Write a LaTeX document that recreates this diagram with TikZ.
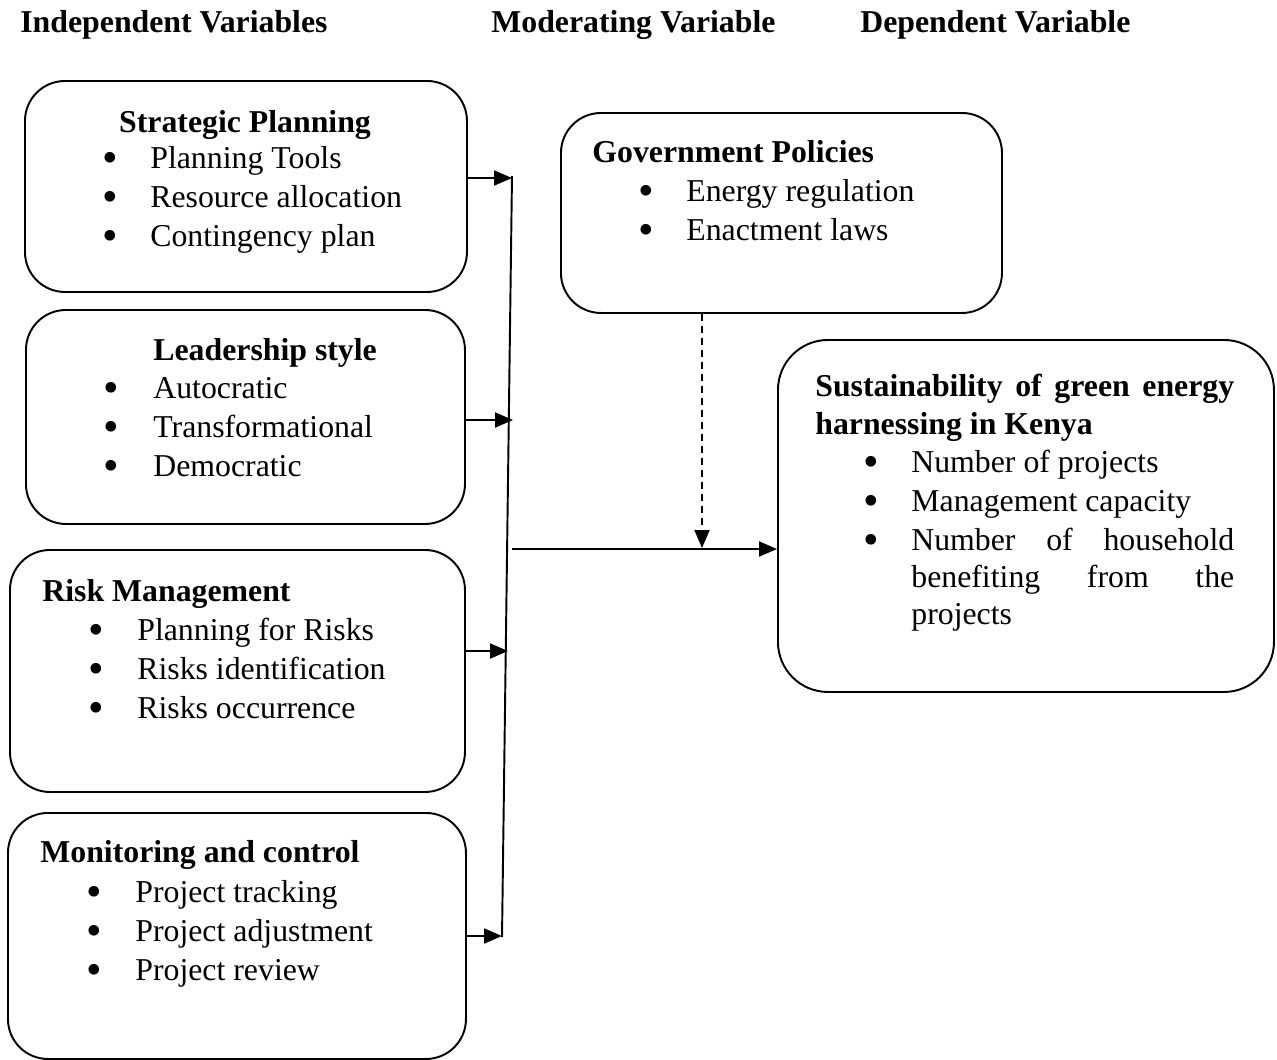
\documentclass[tikz,border=0pt]{standalone}
\usepackage{fontspec}
\usepackage{graphicx}
\setmainfont{Liberation Serif}
\usetikzlibrary{arrows.meta}
\newcommand{\bodysize}{\fontsize{18.1}{22}\selectfont}
\tikzset{>=latex}
\tikzset{
  box/.style={draw, rectangle, rounded corners=0.8cm, line width=1.1pt, anchor=north west, inner sep=0pt},
  head/.style={anchor=base west, inner sep=0pt, font=\bodysize\bfseries},
  item/.style={anchor=base west, inner sep=0pt, font=\bodysize},
  dot/.style={anchor=base, inner sep=0pt, yshift=-0.09cm, font=\bodysize},
  link/.style={line width=1.1pt, -{Triangle[length=0.36cm, width=0.3cm]}},
}

\begin{document}
\begin{tikzpicture}[x=0.02cm, y=-0.02cm]
  \useasboundingbox (0,0) rectangle (1277,1059);

  % column titles
  \node[head] (t-ind) at (20,32) {Independent Variables};
  \node[head] (t-mod) at (491,32) {Moderating Variable};
  \node[head] (t-dep) at (860,32) {Dependent Variable};

  % boxes
  \node[box, minimum width=442*0.02cm, minimum height=211*0.02cm] (plan) at (24,80) {};
  \node[box, minimum width=439*0.02cm, minimum height=214*0.02cm] (lead) at (25,309) {};
  \node[box, minimum width=455*0.02cm, minimum height=242*0.02cm] (risk) at (9,549) {};
  \node[box, minimum width=458*0.02cm, minimum height=246*0.02cm] (moni) at (7,812) {};
  \node[box, minimum width=441*0.02cm, minimum height=200*0.02cm] (govt) at (560,112) {};
  \node[box, rounded corners=1cm, minimum width=496*0.02cm, minimum height=352*0.02cm] (sust) at (777,339) {};

  % box texts
  \node[head, anchor=base] (plan-h) at (245,132) {Strategic Planning};
  \foreach \t [count=\i from 0] in {Planning Tools, Resource allocation, Contingency plan} {
    \node[dot] (plan-d\i) at (110,168+39*\i) {\scalebox{1.4}{•}};
    \node[item] (plan-t\i) at (150,168+39*\i) {\t};
  }
  \node[head] (lead-h) at (153,360) {Leadership style};
  \foreach \t [count=\i from 0] in {Autocratic, Transformational, Democratic} {
    \node[dot] (lead-d\i) at (111,398+39*\i) {\scalebox{1.4}{•}};
    \node[item] (lead-t\i) at (153,398+39*\i) {\t};
  }
  \node[head] (risk-h) at (42,601) {Risk Management};
  \foreach \t [count=\i from 0] in {Planning for Risks, Risks identification, Risks occurrence} {
    \node[dot] (risk-d\i) at (96,640+39*\i) {\scalebox{1.4}{•}};
    \node[item] (risk-t\i) at (137,640+39*\i) {\t};
  }
  \node[head] (moni-h) at (40,862) {Monitoring and control};
  \foreach \t [count=\i from 0] in {Project tracking, Project adjustment, Project review} {
    \node[dot] (moni-d\i) at (94,902+39*\i) {\scalebox{1.4}{•}};
    \node[item] (moni-t\i) at (135,902+39*\i) {\t};
  }
  \node[head] (govt-h) at (592,162) {Government Policies};
  \foreach \t [count=\i from 0] in {Energy regulation, Enactment laws} {
    \node[dot] (govt-d\i) at (646,201+39*\i) {\scalebox{1.4}{•}};
    \node[item] (govt-t\i) at (686,201+39*\i) {\t};
  }
  \node[head] (sust-h1) at (815,396) {\makebox[8.38cm][s]{Sustainability of green energy}};
  \node[head] (sust-h2) at (815,434) {harnessing in Kenya};
  \node[dot] (sust-d0) at (871,472) {\scalebox{1.4}{•}};
  \node[item] (sust-t0) at (911,472) {Number of projects};
  \node[dot] (sust-d1) at (871,511) {\scalebox{1.4}{•}};
  \node[item] (sust-t1) at (911,511) {Management capacity};
  \node[dot] (sust-d2) at (871,550) {\scalebox{1.4}{•}};
  \node[item] (sust-t2) at (911,550) {\makebox[6.46cm][s]{Number of household}};
  \node[item] (sust-t3) at (911,587) {\makebox[6.46cm][s]{benefiting from the}};
  \node[item] (sust-t4) at (911,624) {projects};

  % collecting bar and arrows
  \coordinate (bar-top) at (512,176);
  \coordinate (bar-bot) at (502,937);
  \draw[line width=1.1pt] (bar-top) -- (bar-bot);
  \coordinate (a1) at (512,178);
  \coordinate (a2) at (513,420);
  \coordinate (a3) at (508,651);
  \coordinate (a4) at (502,936);
  \draw[link] (plan.east |- a1) -- (a1);
  \draw[link] (lead.east |- a2) -- (a2);
  \draw[link] (risk.east |- a3) -- (a3);
  \draw[link] (moni.east |- a4) -- (a4);
  \coordinate (join) at (512,549);
  \coordinate (mod) at (702,548);
  \draw[link] (join) -- (join -| sust.west);
  \draw[link, dash pattern=on 0.14cm off 0.1cm] (govt.south -| mod) -- (mod);
\end{tikzpicture}
\end{document}
